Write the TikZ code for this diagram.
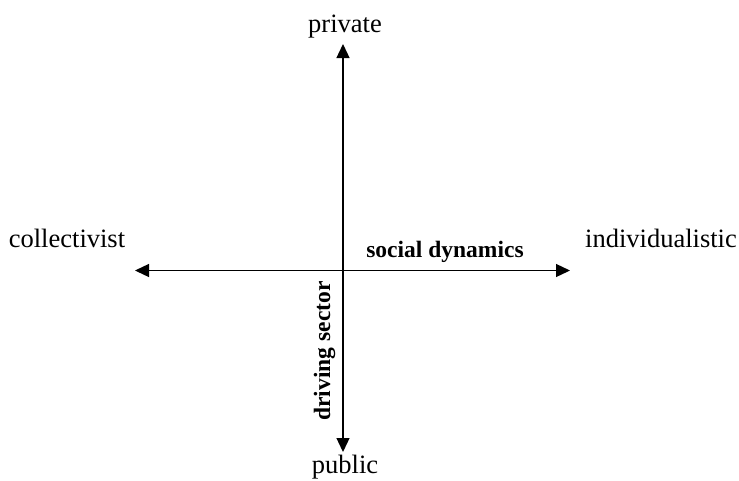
\documentclass[tikz,border=0pt]{standalone}
\usepackage{fontspec}
\setmainfont{Liberation Serif}
\usetikzlibrary{arrows.meta}
\tikzset{
  axis/.style={line width=1.3pt, -{Triangle[length=14pt,width=13pt]}},
  lbl/.style={inner sep=0pt, anchor=base, font=\fontsize{26.5}{30}\selectfont},
  axlbl/.style={inner sep=0pt, anchor=base, font=\fontsize{23.5}{27}\selectfont\bfseries}
}
\begin{document}
\begin{tikzpicture}[x=1pt,y=-1pt]
\useasboundingbox (0,0) rectangle (739,480);
\coordinate (o) at (343,270.5);
\coordinate (top) at (343,44);
\coordinate (bot) at (343,452);
\coordinate (left) at (135,270.5);
\coordinate (right) at (570,270.5);
\draw[axis] (o) -- (top);
\draw[axis] (o) -- (bot);
\draw[axis] (o) -- (left);
\draw[axis] (o) -- (right);
\node[lbl] (private) at (345,32) {private};
\node[lbl] (public) at (345,473) {public};
\node[lbl] (coll) at (67,247) {collectivist};
\node[lbl] (indiv) at (661,247) {individualistic};
\node[axlbl] (soc) at (445,257) {social dynamics};
\node[axlbl, rotate=90] (drv) at (330,351) {driving sector};
\end{tikzpicture}
\end{document}
